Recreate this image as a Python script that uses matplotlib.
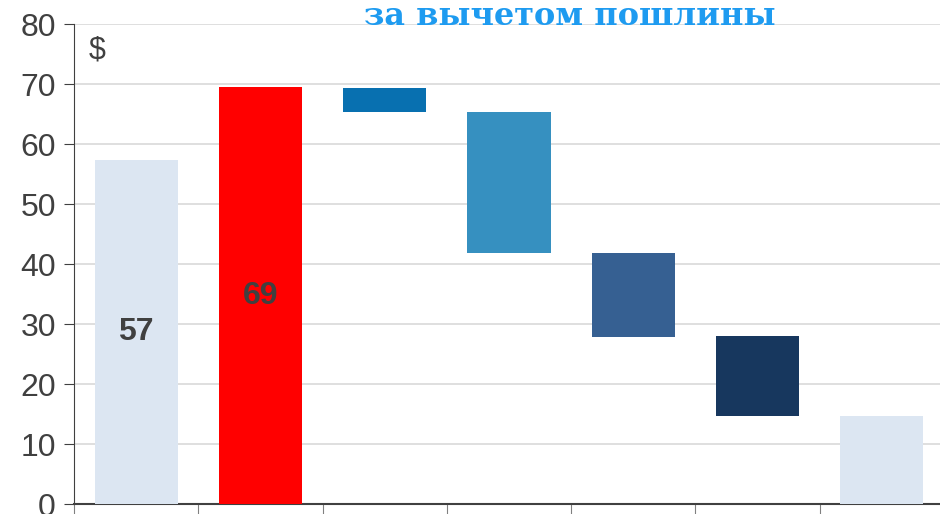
import matplotlib

matplotlib.use("Agg")
import matplotlib.pyplot as plt

# waterfall steps: bar bottom and bar top (in $)
steps = ["start", "gross", "d1", "d2", "d3", "d4", "net"]
bottoms = [0, 0, 65.4, 41.9, 27.9, 14.7, 0]
tops = [57.3, 69.5, 69.4, 65.4, 41.9, 28.0, 14.7]
labels = ["57", "69", "", "", "", "", ""]
colors = ["#DCE6F2", "#FF0000", "#0870B0", "#3690C0", "#366092", "#17375E", "#DCE6F2"]
yticks = [0, 10, 20, 30, 40, 50, 60, 70, 80]

W, H = 940, 514
fig = plt.figure(figsize=(W / 100, H / 100), dpi=100)
ax = fig.add_axes([74 / W, 10 / H, 870 / W, 480 / H])

xs = list(range(len(steps)))
heights = [t - b for t, b in zip(tops, bottoms)]
ax.bar(xs, heights, bottom=bottoms, width=0.67, color=colors, zorder=3)

for x, t, lab in zip(xs, tops, labels):
    if lab:
        ax.text(x, t / 2, lab, ha="center", va="center", fontsize=23,
                fontweight="bold", color="#404040", family="Liberation Sans", zorder=4)

ax.set_xlim(-0.5, len(steps) - 0.5)
ax.set_ylim(0, 80)
ax.set_yticks(yticks)
ax.set_yticklabels([str(v) for v in yticks], family="Liberation Sans", fontsize=23, color="#404040")
ax.set_xticks([x - 0.5 for x in xs] + [len(steps) - 0.5])
ax.set_xticklabels([])
ax.tick_params(axis="y", length=7, color="#404040", pad=6)
ax.tick_params(axis="x", length=8, color="#808080")
ax.grid(axis="y", color="#D9D9D9", linewidth=1.2, zorder=0)
for s in ("top", "right"):
    ax.spines[s].set_visible(False)
ax.spines["left"].set_color("#404040")
ax.spines["bottom"].set_color("#404040")
ax.spines["bottom"].set_linewidth(1.5)

ax.text(0.017, 0.945, "$", transform=ax.transAxes, ha="left", va="center",
        fontsize=22, color="#404040", family="Liberation Sans")

fig.text(570 / W, 1 - 25 / H, "за вычетом пошлины", ha="center", va="baseline",
         fontsize=23, fontweight="bold", color="#1E9BF0", family="DejaVu Serif")

fig.savefig("out.png", dpi=100)
